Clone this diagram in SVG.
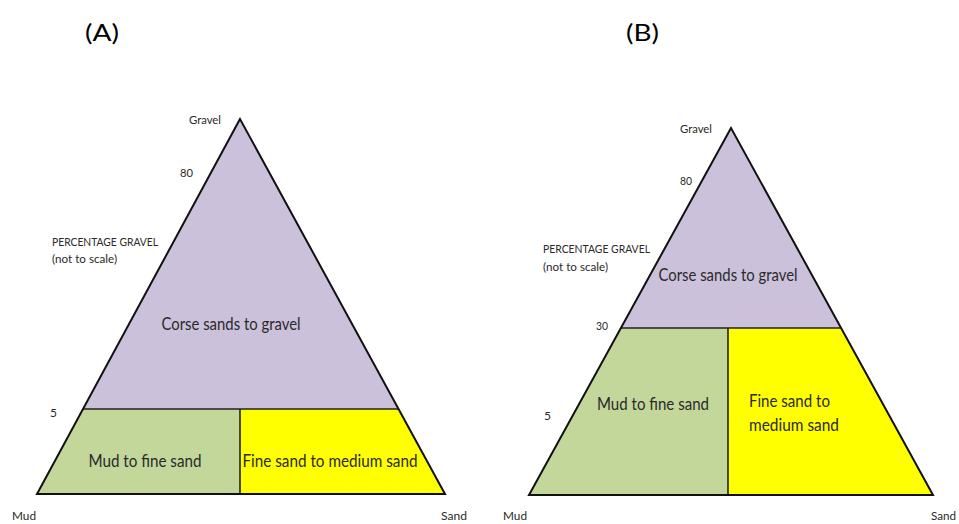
<svg xmlns="http://www.w3.org/2000/svg" width="959" height="524" viewBox="0 0 959 524">
<style>
text{font-family:Lato,"Open Sans","Liberation Sans",sans-serif;fill:#2a2a2a}
.t{font-size:23px;fill:#000}
.s{font-size:12px}
.r{font-size:18px}
.edge{fill:none;stroke:#111;stroke-width:2;stroke-linejoin:miter}
.div{fill:none;stroke:#222;stroke-width:1.6}
.pur{fill:#ccc1db}
.grn{fill:#c4d79b}
.yel{fill:#ffff00}
</style>
<rect width="959" height="524" fill="#fff"/>
<text class="t" x="85" y="41" textLength="34" lengthAdjust="spacingAndGlyphs">(A)</text>
<text class="t" x="626" y="41" textLength="33" lengthAdjust="spacingAndGlyphs">(B)</text>
<g id="diagramA">
<g id="A-coarse"><polygon class="pur" points="240,119 83,409 398,409"/><text class="r" x="231" y="330" text-anchor="middle" textLength="139" lengthAdjust="spacingAndGlyphs">Corse sands to gravel</text></g>
<g id="A-mud"><polygon class="grn" points="83,409 240,409 240,494 37,494"/><text class="r" x="145" y="467" text-anchor="middle" textLength="113" lengthAdjust="spacingAndGlyphs">Mud to fine sand</text></g>
<g id="A-fine"><polygon class="yel" points="240,409 398,409 445,494 240,494"/><text class="r" x="330" y="467" text-anchor="middle" textLength="175" lengthAdjust="spacingAndGlyphs">Fine sand to medium sand</text></g>
<g id="A-lines"><line class="div" x1="83" y1="409" x2="398" y2="409"/><line class="div" x1="240" y1="409" x2="240" y2="494"/><polygon class="edge" points="240,119 37,494 445,494"/></g>
<g id="A-labels">
<text class="s" x="205" y="124" text-anchor="middle" textLength="32" lengthAdjust="spacingAndGlyphs">Gravel</text>
<text class="s" x="180" y="177" textLength="13" lengthAdjust="spacingAndGlyphs">80</text>
<text class="s" x="52" y="246" textLength="106" lengthAdjust="spacingAndGlyphs">PERCENTAGE GRAVEL</text>
<text class="s" x="52" y="263" textLength="65" lengthAdjust="spacingAndGlyphs">(not to scale)</text>
<text class="s" x="50" y="417">5</text>
<text class="s" x="12" y="520" textLength="24" lengthAdjust="spacingAndGlyphs">Mud</text>
<text class="s" x="441" y="520" textLength="26" lengthAdjust="spacingAndGlyphs">Sand</text>
</g>
</g>
<g id="diagramB">
<g id="B-coarse"><polygon class="pur" points="731,128 621,328 841,328"/><text class="r" x="728" y="281" text-anchor="middle" textLength="139" lengthAdjust="spacingAndGlyphs">Corse sands to gravel</text></g>
<g id="B-mud"><polygon class="grn" points="621,328 728,328 728,495 529,495"/><text class="r" x="653" y="410" text-anchor="middle" textLength="112" lengthAdjust="spacingAndGlyphs">Mud to fine sand</text></g>
<g id="B-fine"><polygon class="yel" points="728,328 841,328 933,495 728,495"/><text class="r" x="749" y="407" textLength="81" lengthAdjust="spacingAndGlyphs">Fine sand to</text><text class="r" x="749" y="431" textLength="90" lengthAdjust="spacingAndGlyphs">medium sand</text></g>
<g id="B-lines"><line class="div" x1="621" y1="328" x2="841" y2="328"/><line class="div" x1="728" y1="328" x2="728" y2="495"/><polygon class="edge" points="731,128 529,495 933,495"/></g>
<g id="B-labels">
<text class="s" x="696" y="133" text-anchor="middle" textLength="32" lengthAdjust="spacingAndGlyphs">Gravel</text>
<text class="s" x="680" y="185" textLength="12" lengthAdjust="spacingAndGlyphs">80</text>
<text class="s" x="543" y="253" textLength="107" lengthAdjust="spacingAndGlyphs">PERCENTAGE GRAVEL</text>
<text class="s" x="543" y="271" textLength="65" lengthAdjust="spacingAndGlyphs">(not to scale)</text>
<text class="s" x="596" y="330" textLength="12" lengthAdjust="spacingAndGlyphs">30</text>
<text class="s" x="544" y="420">5</text>
<text class="s" x="503" y="520" textLength="24" lengthAdjust="spacingAndGlyphs">Mud</text>
<text class="s" x="931" y="520" textLength="25" lengthAdjust="spacingAndGlyphs">Sand</text>
</g>
</g>
</svg>
